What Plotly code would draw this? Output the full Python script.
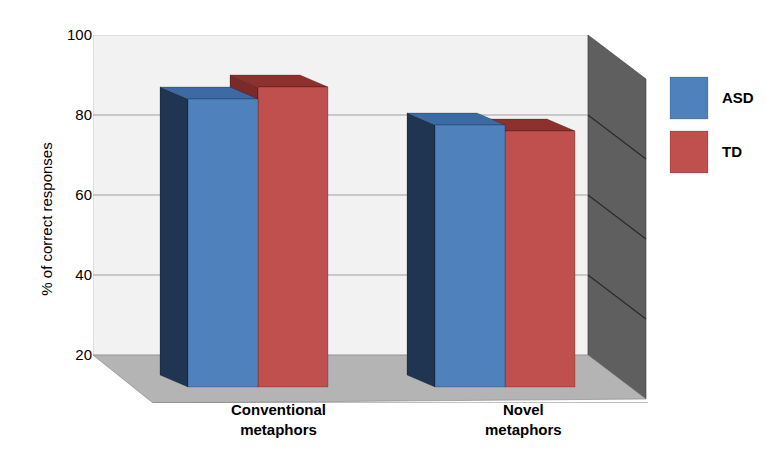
import plotly.graph_objects as go

categories = ["Conventional<br>metaphors", "Novel<br>metaphors"]
asd = [84, 77.5]
td = [87, 76]
y_ticks = [20, 40, 60, 80, 100]

# layout constants (x is in pixel-like units, y in percent units)
base = 12
dx, dy = 28, 3
centers = [250, 497]
bw = 70
wall_l, wall_r, side_r = 85, 580, 638

shapes = []


def poly(pts, fill, line="rgba(0,0,0,0.35)"):
    path = "M " + " L ".join(f"{x},{y}" for x, y in pts) + " Z"
    shapes.append(dict(type="path", path=path, fillcolor=fill, line=dict(color=line, width=0.6), layer="below"))


# back wall, right wall, floor
poly([(wall_l, 20), (wall_l, 100), (wall_r, 100), (wall_r, 20)], "#f2f2f2", "#b0b0b0")
poly([(wall_r, 100), (side_r, 89), (side_r, 9), (wall_r, 20)], "#5f5f5f", "#404040")
poly([(wall_l, 20), (wall_r, 20), (side_r, 9), (145, 8)], "#b4b4b4", "#808080")
for v in y_ticks[1:-1]:
    shapes.append(dict(type="line", x0=wall_l, x1=wall_r, y0=v, y1=v, line=dict(color="#a0a0a0", width=1.2), layer="below"))
    shapes.append(dict(type="line", x0=wall_r, x1=side_r, y0=v, y1=v - 11, line=dict(color="#2a2a2a", width=1.2), layer="below"))


def bar3d(x0, top, front, side, topc):
    x1 = x0 + bw
    poly([(x0, base), (x0, top), (x0 - dx, top + dy), (x0 - dx, base + dy)], side)
    poly([(x0, top), (x1, top), (x1 - dx, top + dy), (x0 - dx, top + dy)], topc)
    poly([(x0, base), (x0, top), (x1, top), (x1, base)], front)


for c, a, t in zip(centers, asd, td):
    bar3d(c, t, "#c0504d", "#7a2b29", "#8e302d")
    bar3d(c - bw, a, "#4f81bd", "#1f3552", "#3b6aa5")

# x axis line with ticks
shapes.append(dict(type="line", x0=145, x1=640, y0=8, y1=8, line=dict(color="#808080", width=1)))
for tx in [145, 390, 640]:
    shapes.append(dict(type="line", x0=tx, x1=tx, y0=8, y1=5.5, line=dict(color="#808080", width=1)))

# legend boxes
for i, (name, col) in enumerate([("ASD", "#4f81bd"), ("TD", "#c0504d")]):
    ytop = 89.5 - i * 13.5
    shapes.append(dict(type="rect", x0=662, x1=700, y0=ytop - 10.5, y1=ytop, fillcolor=col, line=dict(color="rgba(0,0,0,0.3)", width=0.5)))

annotations = [dict(x=c, y=-0.1, yref="paper", text=f"<b>{lab}</b>", showarrow=False, font=dict(size=15, color="black"))
               for c, lab in zip([270, 515], categories)]
annotations += [dict(x=712, y=89.5 - i * 13.5 - 5.2, text=f"<b>{n}</b>", showarrow=False, xanchor="left",
                     font=dict(size=15, color="black")) for i, n in enumerate(["ASD", "TD"])]

fig = go.Figure(go.Scatter(x=[None], y=[None], showlegend=False))
fig.update_layout(
    width=766, height=466, paper_bgcolor="white", plot_bgcolor="white",
    margin=dict(l=85, r=6, t=27, b=71, autoexpand=False),
    font=dict(family="Arial, Liberation Sans", color="black"),
    shapes=shapes, annotations=annotations, showlegend=False,
    xaxis=dict(range=[85, 760], visible=False, automargin=False),
    yaxis=dict(range=[8, 100], tickvals=y_ticks, showgrid=False, zeroline=False, showline=False,
               tickfont=dict(size=15), ticklen=0, automargin=False,
               title=dict(text="% of correct responses", font=dict(size=15), standoff=10)),
)
fig.write_html("out.html")
